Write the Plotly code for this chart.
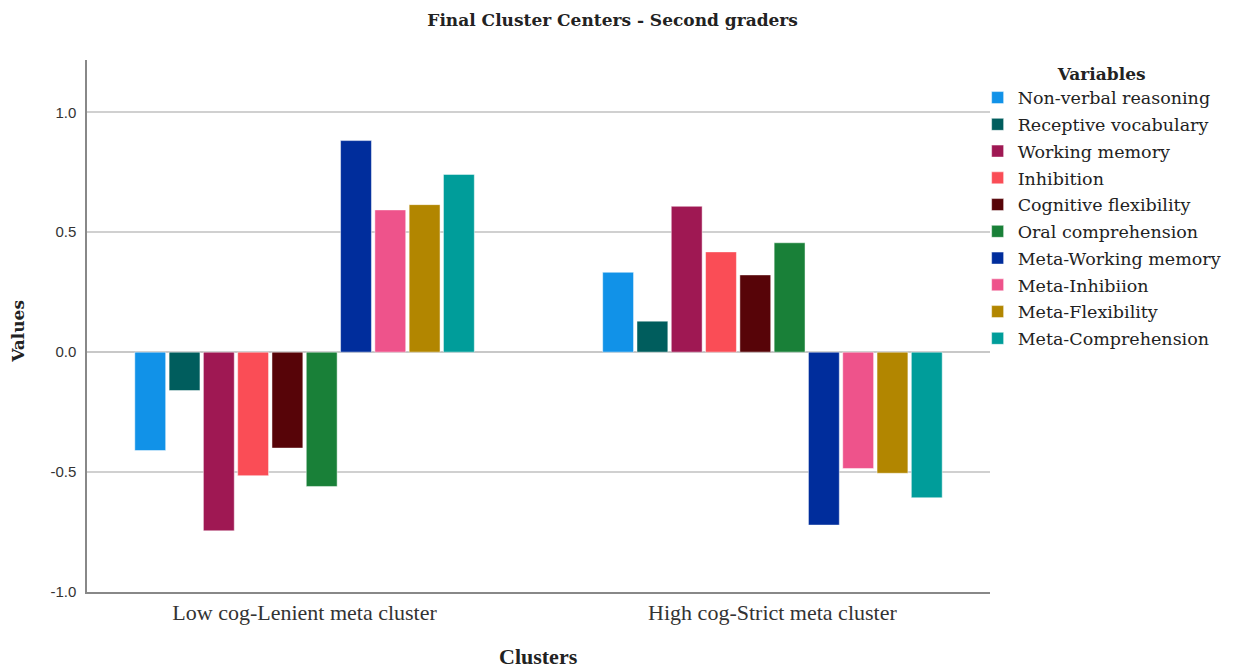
import plotly.graph_objects as go

clusters = ["Low cog-Lenient meta cluster", "High cog-Strict meta cluster"]
variables = ["Non-verbal reasoning", "Receptive vocabulary", "Working memory", "Inhibition",
             "Cognitive flexibility", "Oral comprehension", "Meta-Working memory",
             "Meta-Inhibiion", "Meta-Flexibility", "Meta-Comprehension"]
low_cluster = [-0.41, -0.16, -0.745, -0.515, -0.40, -0.56, 0.882, 0.593, 0.615, 0.741]
high_cluster = [0.333, 0.129, 0.608, 0.418, 0.322, 0.456, -0.721, -0.485, -0.505, -0.607]
colors = ["#1192E8", "#005D5D", "#9F1853", "#FA4D56", "#570408", "#198038",
          "#002D9C", "#EE538B", "#B28600", "#009D9A"]
y_ticks = [-1.0, -0.5, 0.0, 0.5, 1.0]

fig = go.Figure()
for i, name in enumerate(variables):
    fig.add_trace(go.Bar(
        x=[0, 1], y=[low_cluster[i], high_cluster[i]], name=name, legendgroup=f"g{i}",
        marker=dict(color=colors[i], line=dict(color="rgba(255,255,255,0.6)", width=0.8)),
    ))

serif = "DejaVu Serif"
W, H = 1239, 667
L, R, T, B = 79, 257, 52, 83
fig.update_layout(
    width=W, height=H,
    paper_bgcolor="white", plot_bgcolor="white",
    barmode="group", bargap=0.267, bargroupgap=0.1,
    margin=dict(l=L, r=R, t=T, b=B, autoexpand=False),
    title=dict(text="<b>Final Cluster Centers - Second graders</b>", x=0.488, xanchor="center",
               y=0.982, yanchor="middle", font=dict(family=serif, size=17, color="#222")),
    legend=dict(
        title=dict(text="<b>Variables</b>", side="top center", font=dict(family=serif, size=17, color="#222")),
        font=dict(family=serif, size=17.5, color="#222"),
        x=0.9863, xanchor="left", y=1.0045, yanchor="top",
        tracegroupgap=1, itemwidth=30, bgcolor="rgba(0,0,0,0)",
    ),
    xaxis=dict(
        tickmode="array", tickvals=[0, 1], ticktext=clusters,
        range=[-0.465, 1.465], showgrid=False, zeroline=False,
        showline=True, linecolor="#888", linewidth=1.5, automargin=False,
        ticks="", ticklabelstandoff=0, tickfont=dict(family="Liberation Serif", size=22, color="#333"),
    ),
    yaxis=dict(
        range=[-1.0, 1.218], tickvals=y_ticks, ticktext=["-1.0", "-0.5", "0.0", "0.5", "1.0"],
        showgrid=True, gridcolor="#d0d0d0", gridwidth=1.5,
        zeroline=True, zerolinecolor="#c8c8c8", zerolinewidth=1.5,
        showline=True, linecolor="#888", linewidth=1.5, automargin=False,
        ticks="", ticklabelstandoff=6, tickfont=dict(family="Liberation Sans", size=15, color="#333"),
    ),
    annotations=[
        dict(text="<b>Values</b>", xref="paper", yref="paper", x=-0.0764, y=0.489,
             xanchor="center", yanchor="middle", textangle=-90, showarrow=False,
             font=dict(family=serif, size=17, color="#222")),
        dict(text="<b>Clusters</b>", xref="paper", yref="paper", x=0.5, y=-0.122,
             xanchor="center", yanchor="middle", showarrow=False,
             font=dict(family="Liberation Serif", size=22, color="#222")),
    ],
)

fig.write_html("out.html")
